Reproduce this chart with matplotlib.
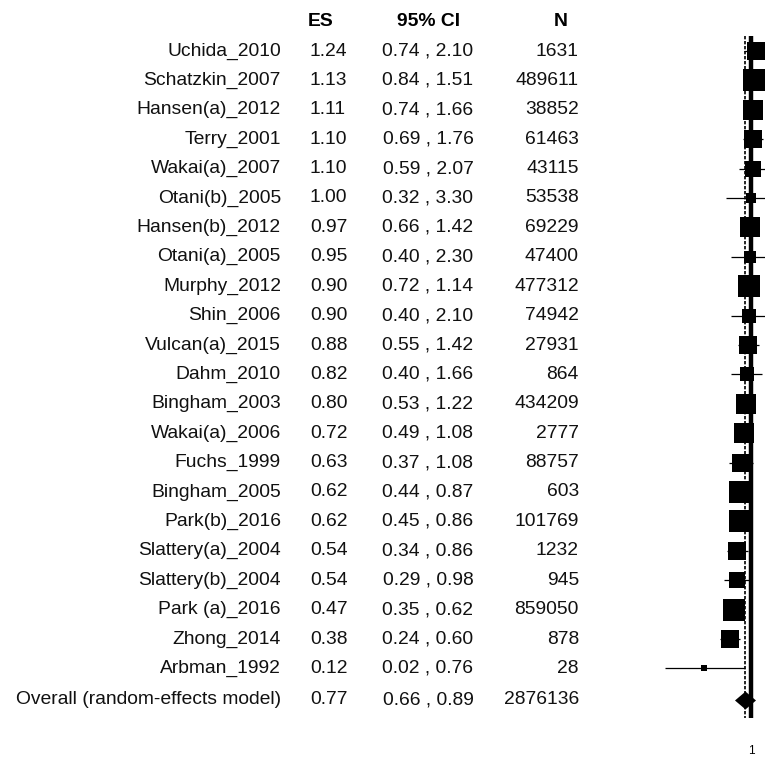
import numpy as np
import matplotlib
matplotlib.use("Agg")
import matplotlib.pyplot as plt

plt.rcParams['font.family'] = ['Liberation Sans', 'DejaVu Sans']

studies = ["Uchida_2010", "Schatzkin_2007", "Hansen(a)_2012", "Terry_2001", "Wakai(a)_2007",
           "Otani(b)_2005", "Hansen(b)_2012", "Otani(a)_2005", "Murphy_2012", "Shin_2006",
           "Vulcan(a)_2015", "Dahm_2010", "Bingham_2003", "Wakai(a)_2006", "Fuchs_1999",
           "Bingham_2005", "Park(b)_2016", "Slattery(a)_2004", "Slattery(b)_2004", "Park (a)_2016",
           "Zhong_2014", "Arbman_1992"]
es = [1.24, 1.13, 1.11, 1.10, 1.10, 1.00, 0.97, 0.95, 0.90, 0.90, 0.88,
      0.82, 0.80, 0.72, 0.63, 0.62, 0.62, 0.54, 0.54, 0.47, 0.38, 0.12]
ci_lo = [0.74, 0.84, 0.74, 0.69, 0.59, 0.32, 0.66, 0.40, 0.72, 0.40, 0.55,
         0.40, 0.53, 0.49, 0.37, 0.44, 0.45, 0.34, 0.29, 0.35, 0.24, 0.02]
ci_hi = [2.10, 1.51, 1.66, 1.76, 2.07, 3.30, 1.42, 2.30, 1.14, 2.10, 1.42,
         1.66, 1.22, 1.08, 1.08, 0.87, 0.86, 0.86, 0.98, 0.62, 0.60, 0.76]
n_obs = [1631, 489611, 38852, 61463, 43115, 53538, 69229, 47400, 477312, 74942, 27931,
         864, 434209, 2777, 88757, 603, 101769, 1232, 945, 859050, 878, 28]

overall_label = "Overall (random-effects model)"
overall_es, overall_lo, overall_hi, overall_n = 0.77, 0.66, 0.89, 2876136

# random-effects weights (DerSimonian-Laird) for square sizes
y = np.log(es)
se = (np.log(ci_hi) - np.log(ci_lo)) / (2 * 1.96)
w = 1 / se**2
ybar = np.sum(w * y) / np.sum(w)
Q = np.sum(w * (y - ybar)**2)
C = np.sum(w) - np.sum(w**2) / np.sum(w)
tau2 = max(0.0, (Q - (len(es) - 1)) / C)
wr = 1 / (se**2 + tau2)
side_px = 23 * np.sqrt(wr / wr.max())

W, H = 765, 757
fig = plt.figure(figsize=(W / 100, H / 100), dpi=100)

# text layer in pixel coordinates
tax = fig.add_axes([0, 0, 1, 1])
tax.set_xlim(0, W)
tax.set_ylim(H, 0)
tax.axis('off')

fs = 13.9
txt = '#111111'
row_y = 51 + np.arange(len(studies)) * 29.4
overall_y = 700

tax.text(308, 21, "ES", fontsize=fs, fontweight='bold', ha='left', va='center')
tax.text(429, 21, "95% CI", fontsize=fs, fontweight='bold', ha='center', va='center')
tax.text(561, 21, "N", fontsize=fs, fontweight='bold', ha='center', va='center')

labels = studies + [overall_label]
es_all = es + [overall_es]
lo_all = ci_lo + [overall_lo]
hi_all = ci_hi + [overall_hi]
n_all = n_obs + [overall_n]
ys = list(row_y) + [overall_y]
for lab, e, l, h, nn, yy in zip(labels, es_all, lo_all, hi_all, n_all, ys):
    tax.text(281, yy, lab, fontsize=fs, color=txt, ha='right', va='center')
    tax.text(310, yy, f"{e:.2f}", fontsize=fs, color=txt, ha='left', va='center')
    tax.text(428, yy, f"{l:.2f} , {h:.2f}", fontsize=fs, color=txt, ha='center', va='center')
    tax.text(579, yy, f"{nn}", fontsize=fs, color=txt, ha='right', va='center')

# forest panel, log scale
px_per_unit = 22
x_one = 751
left_px = 660
fax = fig.add_axes([left_px / W, 0, (W - left_px) / W, 1])
fax.set_xscale('log')
fax.set_xlim(np.exp((left_px - x_one) / px_per_unit), np.exp((W - x_one) / px_per_unit))
fax.set_ylim(H, 0)
fax.axis('off')

fax.vlines(1, 36, 718, colors='black', lw=3.2, zorder=1)
fax.vlines(overall_es, 36, 718, colors='black', lw=1.2, linestyles=(0, (2, 1)), zorder=1)

for e, l, h, yy, s in zip(es, ci_lo, ci_hi, row_y, side_px):
    fax.hlines(yy, l, h, colors='black', lw=0.9, zorder=2)
    fax.plot(e, yy, marker='s', ms=s * 0.72, color='black', mec='black', mew=0, zorder=3)

diamond = [(-1, 0), (0, 0.85), (1, 0), (0, -0.85)]
fax.plot(overall_es, overall_y, marker=diamond, ms=21 * 0.72, color='black', mew=0, zorder=3)

tax.text(751, 751, "1", fontsize=8.5, ha='center', va='center')

fig.savefig("out.png", dpi=100)
